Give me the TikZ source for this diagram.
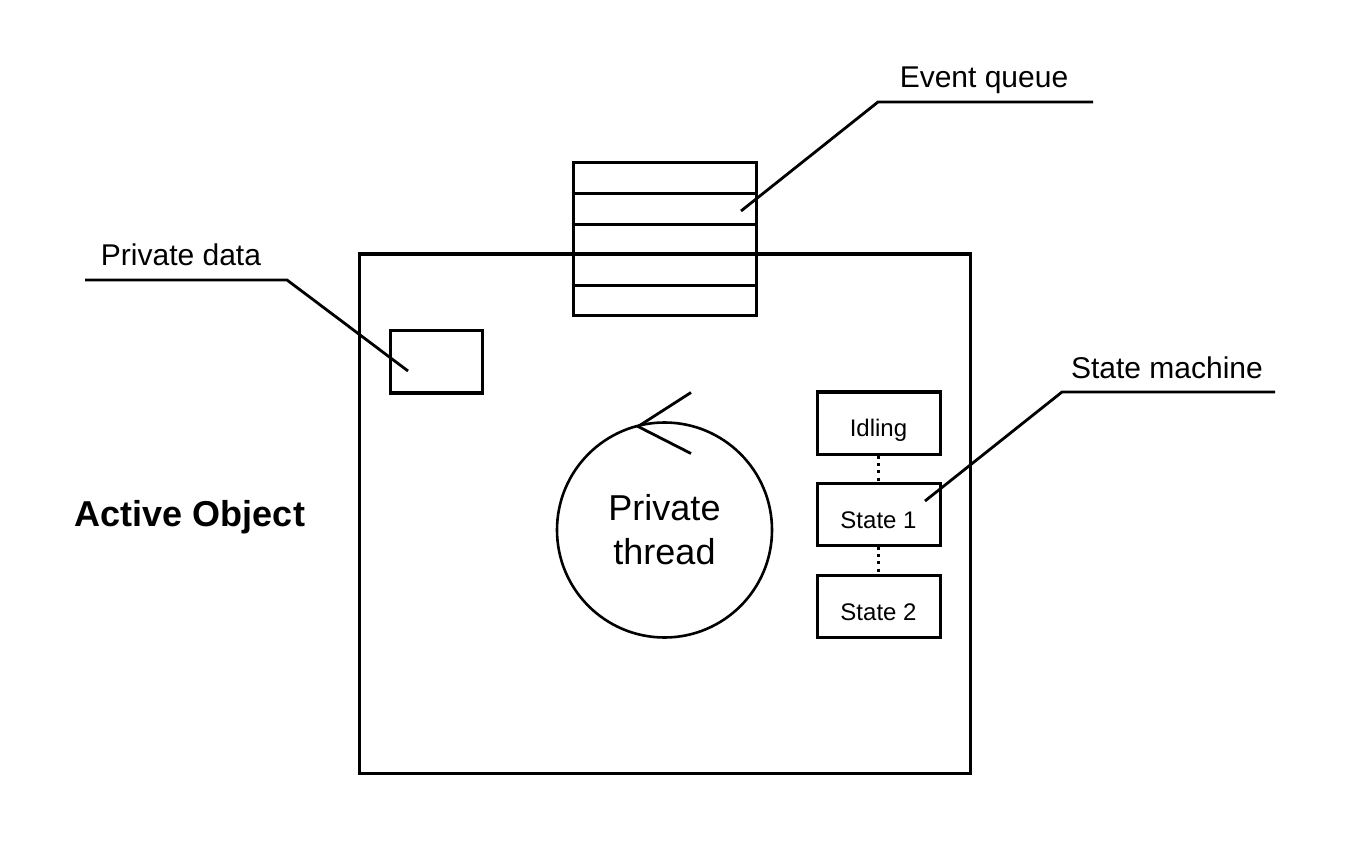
\documentclass[tikz,border=0pt]{standalone}
\usepackage{fontspec}
\setmainfont{Liberation Sans}
\begin{document}
\begin{tikzpicture}[x=0.5pt,y=-0.5pt,
  line join=miter,
  box/.style={draw, line width=1.5pt, rectangle, inner sep=0pt},
  leader/.style={draw, line width=1.4pt},
  lbl/.style={font=\fontsize{15}{18}\selectfont, anchor=base, inner sep=0pt},
  statebox/.style={box, minimum width=61.5pt, minimum height=31pt,
     font=\fontsize{12}{14}\selectfont, text height=14pt, text depth=0pt},
  dots/.style={draw, line width=1.5pt, dash pattern=on 1.5pt off 2.2pt}
]
\useasboundingbox (0,0) rectangle (1350,850);

% main box
\node[box, minimum width=305.5pt, minimum height=259pt] (main) at (664.5,514) {};

% event queue
\node[box, fill=white, minimum width=91.5pt, minimum height=76.5pt] (queue) at (664.5,239.5) {};
\foreach \yy in {193.6,224.2,254.8,285.4}
  \draw[line width=1.5pt] (queue.west |- 0,\yy) -- (queue.east |- 0,\yy);
\draw[line width=1.5pt] (main.north west) -- (main.north east);

% private data box
\node[box, minimum width=46pt, minimum height=31pt] (pdata) at (436,362) {};

% private thread
\node[draw, circle, line width=1.3pt, minimum size=107.5pt, inner sep=0pt,
      align=center, font=\fontsize{18}{22}\selectfont] (thread) at (664.5,530) {Private\\thread};
\coordinate (tip) at (638,426.5);
\coordinate (arrA) at (691,392.5);
\coordinate (arrB) at (691,453.5);
\draw[line width=1.4pt] (arrA) -- (tip) -- (arrB);

% states
\node[statebox] (idle) at (878.5,423) {Idling};
\node[statebox] (s1) at (878.5,514) {State 1};
\node[statebox] (s2) at (878.5,606) {State 2};
\draw[dots] (idle.south) -- (s1.north);
\draw[dots] (s1.south) -- (s2.north);

% labels
\node[lbl] (eqlbl) at (984,88) {Event queue};
\node[lbl] (pdlbl) at (181,266) {Private data};
\node[lbl] (smlbl) at (1167,379) {State machine};
\node[font=\bfseries\fontsize{18}{22}\selectfont, anchor=base, inner sep=0pt] (aolbl) at (190,526) {Active Object};

% leaders
\coordinate (eqend) at (741,211);
\coordinate (eqknee) at (878,102);
\coordinate (eqtail) at (1093,102);
\draw[leader] (eqend) -- (eqknee) -- (eqtail);

\coordinate (pdend) at (408,371);
\coordinate (pdknee) at (287,280);
\coordinate (pdtail) at (85,280);
\draw[leader] (pdend) -- (pdknee) -- (pdtail);

\coordinate (smend) at (925,501);
\coordinate (smknee) at (1062,392);
\coordinate (smtail) at (1275,392);
\draw[leader] (smend) -- (smknee) -- (smtail);
\end{tikzpicture}
\end{document}
